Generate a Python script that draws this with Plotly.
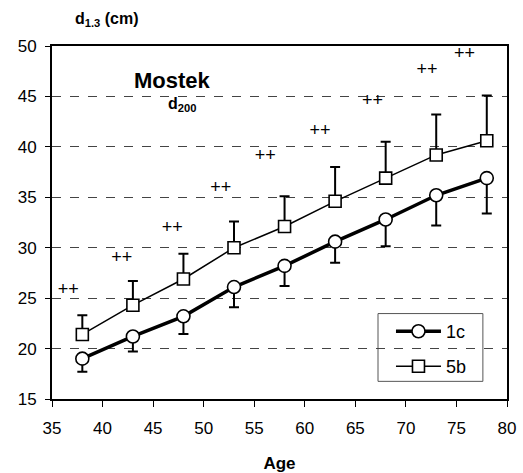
import plotly.graph_objects as go

# Stand age (years)
age = [38, 43, 48, 53, 58, 63, 68, 73, 78]

# Mean breast-height diameter d1.3 (cm) for the two variants
d_1c = [19.0, 21.2, 23.2, 26.1, 28.2, 30.6, 32.8, 35.2, 36.9]
d_5b = [21.4, 24.3, 26.9, 30.0, 32.1, 34.6, 36.9, 39.2, 40.6]

# Error bar ends: 1c shows the lower bar, 5b the upper bar
low_1c = [17.7, 19.7, 21.45, 24.1, 26.2, 28.5, 30.15, 32.2, 33.4]
up_5b = [23.3, 26.7, 29.4, 32.6, 35.1, 38.0, 40.5, 43.2, 45.1]

# Significance marks "++" (position in age / diameter units)
sig_x = [36.6, 41.9, 46.9, 51.7, 56.1, 61.5, 66.7, 72.1, 75.8]
sig_y = [25.8, 28.9, 31.9, 35.9, 39.0, 41.5, 44.5, 47.6, 49.2]

FONT = "Liberation Sans, Arial, sans-serif"

fig = go.Figure()

fig.add_trace(go.Scatter(
    x=age, y=d_1c, name="1c", mode="lines+markers", legend="legend",
    line=dict(color="black", width=3.5),
    marker=dict(symbol="circle", size=13, color="white",
                line=dict(color="black", width=1.6)),
    error_y=dict(type="data", symmetric=False,
                 array=[0] * len(age),
                 arrayminus=[m - l for m, l in zip(d_1c, low_1c)],
                 color="black", thickness=2, width=5),
))

fig.add_trace(go.Scatter(
    x=age, y=d_5b, name="5b", mode="lines+markers", legend="legend2",
    line=dict(color="black", width=1.5),
    marker=dict(symbol="square", size=12, color="white",
                line=dict(color="black", width=1.6)),
    error_y=dict(type="data", symmetric=False,
                 array=[u - m for m, u in zip(d_5b, up_5b)],
                 arrayminus=[0] * len(age),
                 color="black", thickness=2, width=5),
))

fig.add_trace(go.Scatter(
    x=sig_x, y=sig_y, mode="text", text=["++"] * len(sig_x),
    textfont=dict(family=FONT, size=18, color="black"),
    showlegend=False, hoverinfo="skip",
))

legend_common = dict(
    xanchor="left", yanchor="middle",
    bgcolor="rgba(0,0,0,0)", borderwidth=0,
    font=dict(family=FONT, size=18, color="black"),
    itemwidth=45,
)

fig.update_layout(
    width=523, height=473,
    margin=dict(l=52, r=16, t=46, b=74),
    paper_bgcolor="white", plot_bgcolor="white",
    font=dict(family=FONT, size=17, color="black"),
    showlegend=True,
    legend=dict(x=0.745, y=0.191, **legend_common),
    legend2=dict(x=0.745, y=0.092, **legend_common),
    xaxis=dict(
        range=[35, 80], dtick=5, tick0=35, automargin=False,
        showline=True, linecolor="black", linewidth=2, mirror=True,
        ticks="outside", ticklen=6, tickwidth=1, tickcolor="black",
        ticklabelstandoff=7,
        showgrid=False, zeroline=False,
        tickfont=dict(family=FONT, size=17),
        title=dict(text="<b>Age</b>", font=dict(family=FONT, size=17), standoff=22),
    ),
    yaxis=dict(
        range=[15, 50], dtick=5, tick0=15, automargin=False,
        showline=True, linecolor="black", linewidth=2, mirror=True,
        ticks="outside", ticklen=5, tickwidth=1, tickcolor="black",
        ticklabelstandoff=5,
        showgrid=True, gridcolor="#444444", gridwidth=1, griddash="dash",
        zeroline=False,
        tickfont=dict(family=FONT, size=17),
    ),
    shapes=[
        # frame around the legend entries
        dict(type="rect", xref="paper", yref="paper",
             x0=0.7165, x1=0.947, y0=0.05, y1=0.242,
             line=dict(color="#555555", width=1), fillcolor="white", layer="below"),
    ],
    annotations=[
        dict(text="<b>d<sub>1.3</sub> (cm)</b>", x=0.046, y=1.076,
             xref="paper", yref="paper", xanchor="left", yanchor="middle",
             showarrow=False, font=dict(family=FONT, size=16)),
        dict(text="<b>Mostek</b>", x=0.176, y=0.903, xref="paper", yref="paper",
             xanchor="left", yanchor="middle", showarrow=False,
             font=dict(family=FONT, size=22)),
        dict(text="<b>d<sub>200</sub></b>", x=0.25, y=0.835, xref="paper", yref="paper",
             xanchor="left", yanchor="middle", showarrow=False,
             font=dict(family=FONT, size=16)),
    ],
)

fig.write_html("out.html")
